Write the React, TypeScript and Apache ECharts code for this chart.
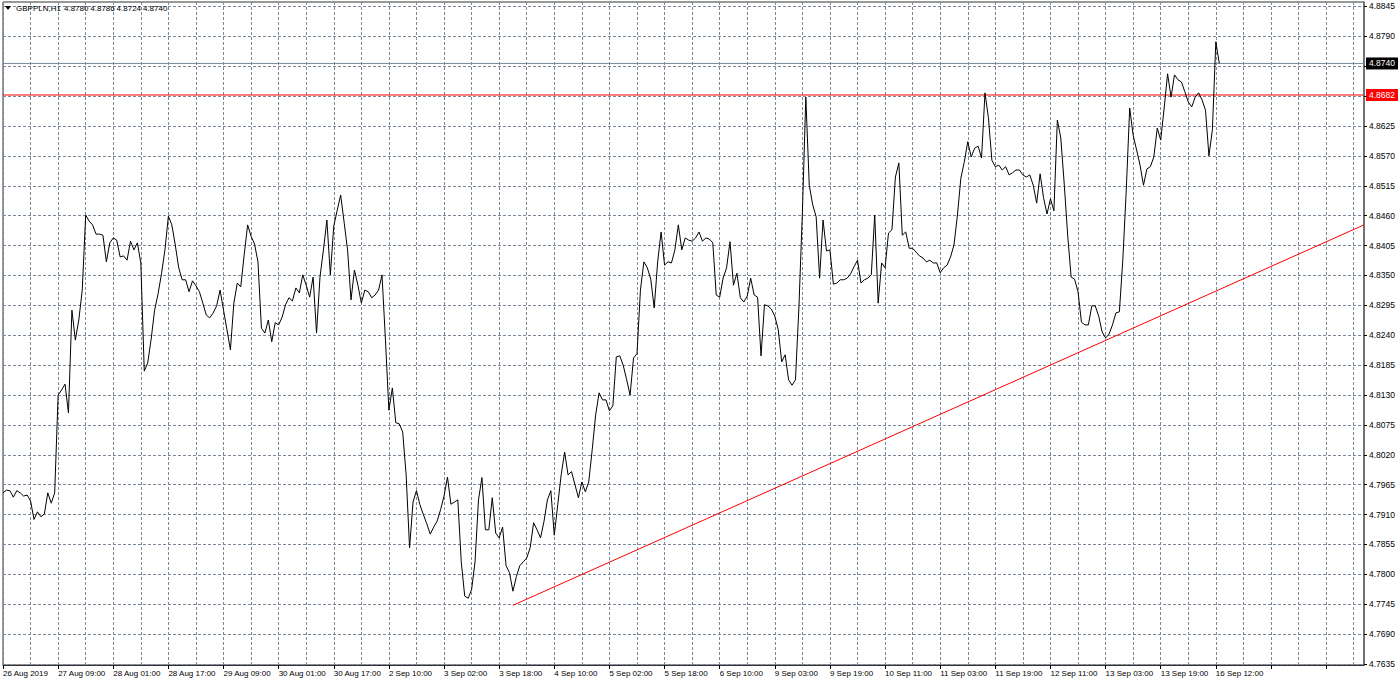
import React, { useEffect, useRef } from 'react';
import * as echarts from 'echarts';

// ---------- data ----------
const SYMBOL = 'GBPPLN,H1';
const HEADER_OHLC = ['4.8780', '4.8786', '4.8724', '4.8740'];

const TICK_LABELS = [
  '26 Aug 2019', '27 Aug 09:00', '28 Aug 01:00', '28 Aug 17:00', '29 Aug 09:00',
  '30 Aug 01:00', '30 Aug 17:00', '2 Sep 10:00', '3 Sep 02:00', '3 Sep 18:00',
  '4 Sep 10:00', '5 Sep 02:00', '5 Sep 18:00', '6 Sep 10:00', '9 Sep 03:00',
  '9 Sep 19:00', '10 Sep 11:00', '11 Sep 03:00', '11 Sep 19:00', '12 Sep 11:00',
  '13 Sep 03:00', '13 Sep 19:00', '16 Sep 12:00',
];

const Y_TICKS = [
  4.7635, 4.7690, 4.7745, 4.7800, 4.7855, 4.7910, 4.7965, 4.8020, 4.8075, 4.8130,
  4.8185, 4.8240, 4.8295, 4.8350, 4.8405, 4.8460, 4.8515, 4.8570, 4.8625, 4.8680,
  4.8735, 4.8790, 4.8845,
];
const Y_LABELS_HIDDEN = [4.8680, 4.8735];

// hourly closes, 26 Aug 17:00 - 30 Aug 22:00
const CLOSE_WEEK1 = [
  4.7950, 4.7955, 4.7954, 4.7942, 4.7954, 4.7950, 4.7944, 4.7946, 4.7935, 4.7901,
  4.7915, 4.7906, 4.7911, 4.7950, 4.7931, 4.7950, 4.8130, 4.8139, 4.8150, 4.8097,
  4.8286, 4.8231, 4.8268, 4.8323, 4.8461, 4.8450, 4.8443, 4.8426, 4.8426, 4.8424,
  4.8375, 4.8410, 4.8419, 4.8415, 4.8384, 4.8386, 4.8378, 4.8413, 4.8397, 4.8410,
  4.8373, 4.8174, 4.8189, 4.8233, 4.8286, 4.8316, 4.8353, 4.8397, 4.8459, 4.8443,
  4.8406, 4.8364, 4.8342, 4.8342, 4.8320, 4.8340, 4.8331, 4.8320, 4.8299, 4.8277,
  4.8272, 4.8281, 4.8294, 4.8323, 4.8286, 4.8250, 4.8213, 4.8299, 4.8336, 4.8329,
  4.8388, 4.8443, 4.8422, 4.8408, 4.8375, 4.8253, 4.8244, 4.8268, 4.8228, 4.8263,
  4.8259, 4.8273, 4.8296, 4.8309, 4.8303, 4.8327, 4.8318, 4.8351, 4.8332, 4.8310,
  4.8347, 4.8244, 4.8347, 4.8397, 4.8452, 4.8351, 4.8441, 4.8470, 4.8498, 4.8448,
  4.8397, 4.8305,
];
// 2 Sep 00:00 - 6 Sep 22:00
const CLOSE_WEEK2 = [
  4.8360, 4.8332, 4.8299, 4.8323, 4.8320, 4.8309, 4.8314, 4.8323, 4.8351, 4.8231,
  4.8102, 4.8143, 4.8079, 4.8077, 4.8062, 4.7983, 4.7849, 4.7933, 4.7954, 4.7928,
  4.7910, 4.7893, 4.7874, 4.7887, 4.7898, 4.7919, 4.7944, 4.7979, 4.7929, 4.7933,
  4.7937, 4.7823, 4.7760, 4.7756, 4.7772, 4.7823, 4.7937, 4.7978, 4.7882, 4.7882,
  4.7941, 4.7876, 4.7867, 4.7887, 4.7816, 4.7803, 4.7769, 4.7796, 4.7816, 4.7823,
  4.7830, 4.7849, 4.7895, 4.7882, 4.7867, 4.7897, 4.7937, 4.7954, 4.7872, 4.7928,
  4.7983, 4.8025, 4.7983, 4.7989, 4.7965, 4.7941, 4.7970, 4.7952, 4.7970, 4.8029,
  4.8093, 4.8134, 4.8121, 4.8121, 4.8101, 4.8110, 4.8200, 4.8202, 4.8185, 4.8158,
  4.8130, 4.8198, 4.8206, 4.8323, 4.8375, 4.8364, 4.8343, 4.8290, 4.8375, 4.8430,
  4.8369, 4.8375, 4.8373, 4.8397, 4.8443, 4.8397, 4.8419, 4.8415, 4.8413, 4.8419,
  4.8430, 4.8413, 4.8419, 4.8417, 4.8410, 4.8314, 4.8310, 4.8345, 4.8364, 4.8412,
  4.8332, 4.8354, 4.8309, 4.8301, 4.8312, 4.8345, 4.8314, 4.8310, 4.8202,
];
// 9 Sep 00:00 - 13 Sep 22:00
const CLOSE_WEEK3 = [
  4.8296, 4.8294, 4.8288, 4.8275, 4.8250, 4.8191, 4.8204, 4.8158, 4.8148, 4.8158,
  4.8292, 4.8465, 4.8678, 4.8516, 4.8480, 4.8458, 4.8345, 4.8452, 4.8395, 4.8397,
  4.8334, 4.8336, 4.8342, 4.8342, 4.8345, 4.8353, 4.8366, 4.8378, 4.8336, 4.8342,
  4.8345, 4.8351, 4.8461, 4.8299, 4.8373, 4.8364, 4.8428, 4.8434, 4.8531, 4.8557,
  4.8424, 4.8430, 4.8400, 4.8400, 4.8393, 4.8386, 4.8382, 4.8375, 4.8378, 4.8373,
  4.8373, 4.8355, 4.8364, 4.8369, 4.8384, 4.8406, 4.8461, 4.8529, 4.8559, 4.8596,
  4.8568, 4.8584, 4.8588, 4.8566, 4.8686, 4.8640, 4.8562, 4.8550, 4.8553, 4.8544,
  4.8550, 4.8535, 4.8539, 4.8544, 4.8544, 4.8535, 4.8531, 4.8535, 4.8516, 4.8483,
  4.8537, 4.8493, 4.8463, 4.8491, 4.8469, 4.8636, 4.8603, 4.8518, 4.8424, 4.8347,
  4.8343, 4.8320, 4.8264, 4.8259, 4.8259, 4.8294, 4.8294, 4.8275, 4.8246, 4.8235,
  4.8242, 4.8259, 4.8281, 4.8283, 4.8378, 4.8507, 4.8658, 4.8608, 4.8581, 4.8553,
  4.8516, 4.8546, 4.8550, 4.8568, 4.8621, 4.8599, 4.8658, 4.8721, 4.8678,
];
// 16 Sep 00:00 - 16 Sep 13:00
const CLOSE_WEEK4 = [
  4.8719, 4.8710, 4.8706, 4.8688, 4.8669, 4.8660, 4.8678, 4.8686, 4.8673, 4.8654,
  4.8570, 4.8618, 4.8780, 4.8740,
];

const BID_PRICE = 4.8740;
const RESISTANCE_LEVEL = 4.8682;
const TREND_START = [148, 4.7743];
const TREND_END = [395, 4.8443];
const TOTAL_SLOTS = 396; // bars incl. empty chart shift on the right
const FIRST_BAR_UTC = Date.UTC(2019, 7, 26, 17);

const MONTHS = ['Jan', 'Feb', 'Mar', 'Apr', 'May', 'Jun', 'Jul', 'Aug', 'Sep', 'Oct', 'Nov', 'Dec'];

function buildHours(count: number): string[] {
  const out: string[] = [];
  let t = FIRST_BAR_UTC;
  for (let k = 0; k < count; k++) {
    const d = new Date(t);
    out.push(`${d.getUTCDate()} ${MONTHS[d.getUTCMonth()]} ${String(d.getUTCHours()).padStart(2, '0')}:00`);
    t += 3600000;
    const n = new Date(t);
    if (n.getUTCDay() === 5 && n.getUTCHours() === 23) t += 49 * 3600000;
  }
  return out;
}

const FONT = '"Liberation Sans", Arial, sans-serif';
const GRID_COLOR = '#7a8899';

export default function App() {
  const ref = useRef<HTMLDivElement>(null);

  useEffect(() => {
    if (!ref.current) return;
    const chart = echarts.init(ref.current, undefined, { renderer: 'svg' });
    const closes = [...CLOSE_WEEK1, ...CLOSE_WEEK2, ...CLOSE_WEEK3, ...CLOSE_WEEK4];
    const hours = buildHours(TOTAL_SLOTS);
    const yMin = 4.76332;
    const yMax = 4.88531;
    const last = TOTAL_SLOTS - 1;

    const levelSeries = (name: string, value: number, color: string, boxColor: string, z: number) => ({
      name,
      type: 'line',
      data: [[0, value], [last, value]],
      symbol: 'none',
      silent: true,
      z,
      lineStyle: { color, width: 1, type: 'solid' },
      endLabel: {
        show: true,
        distance: 2,
        formatter: value.toFixed(4),
        backgroundColor: boxColor,
        color: '#fff',
        padding: [2, 3, 1, 3],
        fontSize: 8.5,
        fontFamily: FONT,
      },
    });

    chart.setOption({
      animation: false,
      backgroundColor: '#ffffff',
      textStyle: { fontFamily: FONT },
      grid: {
        left: 3,
        right: 36,
        top: 2,
        bottom: 19,
        show: true,
        borderColor: '#333',
        borderWidth: 1,
        backgroundColor: '#fff',
      },
      xAxis: {
        type: 'category',
        data: hours,
        boundaryGap: false,
        axisLine: { show: true, lineStyle: { color: '#333', width: 1 } },
        axisTick: { show: true, interval: 15, length: 4, lineStyle: { color: '#000' } },
        axisLabel: {
          interval: 15,
          align: 'left',
          margin: 4,
          fontSize: 8,
          color: '#000',
          fontFamily: FONT,
          formatter: (_v: string, idx: number) => TICK_LABELS[idx / 16] ?? '',
        },
        splitLine: { show: true, interval: 7, lineStyle: { color: GRID_COLOR, type: [3, 2], width: 1 } },
      },
      yAxis: {
        type: 'value',
        position: 'right',
        min: yMin,
        max: yMax,
        axisLine: { show: true, lineStyle: { color: '#666', width: 1.5 } },
        axisTick: { show: true, length: 3, customValues: Y_TICKS, lineStyle: { color: '#000' } },
        axisLabel: {
          customValues: Y_TICKS.filter((v) => !Y_LABELS_HIDDEN.includes(v)),
          formatter: (v: number) => v.toFixed(4),
          margin: 5,
          fontSize: 8.5,
          color: '#000',
          fontFamily: FONT,
        },
        splitLine: { show: true, lineStyle: { color: GRID_COLOR, type: [3, 2], width: 1 } },
      },
      graphic: [
        { type: 'polygon', shape: { points: [[5, 6], [11, 6], [8, 10]] }, style: { fill: '#000' }, z: 100 },
        { type: 'text', x: 16, y: 8, style: { text: SYMBOL, fontSize: 8, fontFamily: FONT, fill: '#000', verticalAlign: 'middle' }, z: 100 },
        ...HEADER_OHLC.map((t, k) => ({
          type: 'text', x: 64 + k * 26.3, y: 8,
          style: { text: t, fontSize: 8, fontFamily: FONT, fill: '#000', verticalAlign: 'middle' }, z: 100,
        })),
      ],
      series: [
        levelSeries('bid', BID_PRICE, '#7a8899', '#000', 3),
        levelSeries('resistance', RESISTANCE_LEVEL, '#ff0000', '#ff0000', 3),
        {
          name: 'trend',
          type: 'line',
          data: [TREND_START, TREND_END],
          symbol: 'none',
          silent: true,
          lineStyle: { color: '#ff0000', width: 1 },
          z: 4,
        },
        {
          name: SYMBOL,
          type: 'line',
          data: closes,
          symbol: 'none',
          lineStyle: { color: '#000', width: 1 },
          z: 5,
        },
      ],
    });
    return () => chart.dispose();
  }, []);

  return <div ref={ref} style={{ position: 'absolute', left: 0, top: 0, width: 1400, height: 684 }} />;
}
